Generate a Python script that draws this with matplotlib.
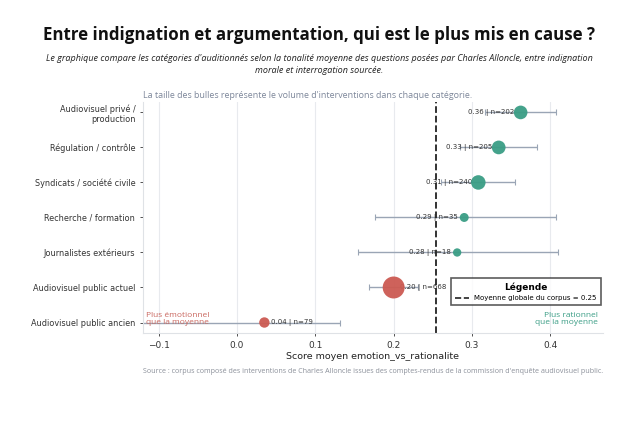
import matplotlib
matplotlib.use("Agg")
import matplotlib.pyplot as plt
from matplotlib.lines import Line2D

# data
categories = ["Audiovisuel privé /\nproduction", "Régulation / contrôle",
              "Syndicats / société civile", "Recherche / formation",
              "Journalistes extérieurs", "Audiovisuel public actuel",
              "Audiovisuel public ancien"]
scores = [0.362, 0.334, 0.308, 0.290, 0.281, 0.200, 0.035]
ci_low = [0.317, 0.285, 0.261, 0.176, 0.154, 0.169, -0.135]
ci_high = [0.407, 0.383, 0.355, 0.407, 0.410, 0.231, 0.132]
counts = [202, 205, 240, 35, 18, 668, 79]
labels = ["0.36", "0.33", "0.31", "0.29", "0.28", "0.20", "0.04"]
corpus_mean = 0.254

teal = "#3a9d85"
red = "#cc5a52"
err_col = "#9aa5b5"

fig = plt.figure(figsize=(6.38, 4.47), dpi=100)
ax = fig.add_axes([0.224, 0.255, 0.721, 0.517])

ypos = list(range(len(categories)))
for i in ypos:
    x = scores[i]
    col = teal if x >= corpus_mean else red
    ax.errorbar(x, i, xerr=[[x - ci_low[i]], [ci_high[i] - x]], fmt="none",
                ecolor=err_col, elinewidth=1, capsize=2, capthick=0.8, zorder=1)
    ax.scatter(x, i, s=30 + counts[i] * 0.33, color=col, alpha=0.95,
               edgecolor="none", zorder=3)
    txt = labels[i] + " | n=" + str(counts[i])
    if x >= corpus_mean:
        ax.text(x - 0.008, i, txt, ha="right", va="center", fontsize=5,
                color="#333333", zorder=2)
    else:
        ax.text(x + 0.008, i, txt, ha="left", va="center", fontsize=5,
                color="#333333", zorder=2)

ax.axvline(corpus_mean, color="#222222", ls="--", lw=1.3, zorder=2)

ax.set_yticks(ypos)
ax.set_yticklabels(categories, fontsize=5.9, color="#333333")
ax.set_ylim(6.3, -0.3)
ax.set_xlim(-0.12, 0.467)
ax.set_xticks([-0.1, 0.0, 0.1, 0.2, 0.3, 0.4])
ax.set_xticklabels(["\u22120.1", "0.0", "0.1", "0.2", "0.3", "0.4"])
ax.tick_params(axis="x", labelsize=6.5, colors="#333333", length=2, width=0.6)
ax.tick_params(axis="y", length=2, width=0.6, colors="#333333")
ax.set_xlabel("Score moyen emotion_vs_rationalite", fontsize=6.8, color="#222222",
              labelpad=1.5)
ax.grid(axis="x", color="#e8eaee", lw=0.8)
ax.set_axisbelow(True)
for s in ["top", "right"]:
    ax.spines[s].set_visible(False)
for s in ["left", "bottom"]:
    ax.spines[s].set_color("#dfe2e6")
    ax.spines[s].set_linewidth(0.8)

ax.text(0.006, 0.03, "Plus émotionnel\nque la moyenne", transform=ax.transAxes,
        fontsize=6, color="#c9675f", family="Open Sans", va="bottom", ha="left",
        linespacing=1.0)
ax.text(0.99, 0.03, "Plus rationnel\nque la moyenne", transform=ax.transAxes,
        fontsize=6, color="#3a9d85", family="Open Sans", va="bottom", ha="right",
        linespacing=1.0, multialignment="right")

leg = ax.legend(handles=[Line2D([0], [0], color="#222222", ls="--", lw=1.2)],
                labels=["Moyenne globale du corpus = 0.25"], title="Légende",
                loc="lower right", bbox_to_anchor=(1.003, 0.105), fontsize=5,
                title_fontproperties={"weight": "bold", "size": 6.5},
                frameon=True, fancybox=False, handlelength=2, borderpad=0.6)
leg.get_frame().set_edgecolor("#333333")
leg.get_frame().set_linewidth(1.2)

fig.text(0.5, 0.91, "Entre indignation et argumentation, qui est le plus mis en cause ?",
         ha="center", fontsize=12.2, weight="bold", family="Open Sans", color="#111111")
fig.text(0.5, 0.879, "Le graphique compare les catégories d'auditionnés selon la tonalité moyenne "
         "des questions posées par Charles Alloncle, entre indignation\nmorale et interrogation sourcée.",
         ha="center", va="top", fontsize=6.5, style="italic", family="Open Sans",
         color="#222222", linespacing=1.4)
fig.text(0.224, 0.78, "La taille des bulles représente le volume d'interventions dans chaque catégorie.",
         ha="left", fontsize=6.4, family="Open Sans", color="#7d879a")
fig.text(0.945, 0.165, "Source : corpus composé des interventions de Charles Alloncle issues des "
         "comptes-rendus de la commission d'enquête audiovisuel public.",
         ha="right", fontsize=5.15, family="Open Sans", color="#8a8f99")

fig.savefig("out.png", dpi=100)
